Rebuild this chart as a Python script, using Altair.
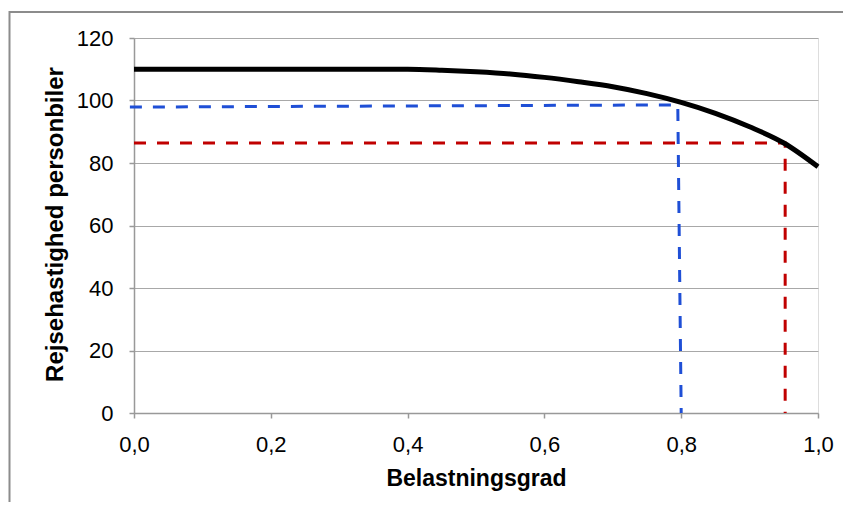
import altair as alt
import pandas as pd

# ---- data ----
curve_x = [0.0, 0.1, 0.2, 0.3, 0.4, 0.45, 0.5, 0.55, 0.6, 0.65, 0.7, 0.75, 0.8, 0.85, 0.9, 0.95, 1.0]
curve_y = [110, 110, 110, 110, 110, 109.7, 109.2, 108.5, 107.4, 106.0, 104.4, 102.2, 99.4, 95.9, 91.6, 86.4, 78.8]

blue_x = [-0.006, 0.795, 0.8]
blue_y = [97.9, 98.6, 0]

red_x = [0.0, 0.952, 0.952]
red_y = [86.4, 86.4, 0]

x_ticks = [0.0, 0.2, 0.4, 0.6, 0.8, 1.0]
y_ticks = [0, 20, 40, 60, 80, 100, 120]

x_title = "Belastningsgrad"
y_title = "Rejsehastighed personbiler"

W, H = 684, 375
FONT = "Liberation Sans"
GRAY = "#999999"

curve = pd.DataFrame({"x": curve_x, "y": curve_y, "i": list(range(len(curve_x)))})
blue = pd.DataFrame({"x": blue_x, "y": blue_y, "i": list(range(len(blue_x)))})
red = pd.DataFrame({"x": red_x, "y": red_y, "i": list(range(len(red_x)))})

xscale = alt.Scale(domain=[0, 1], nice=False, zero=False)
yscale = alt.Scale(domain=[0, 120], nice=False)

xaxis = alt.Axis(
    values=x_ticks,
    labelExpr="replace(format(datum.value, '.1f'), '.', ',')",
    labelFlush=False,
    grid=False,
    domainColor=GRAY, domainWidth=1.5,
    tickColor=GRAY, tickSize=5, tickWidth=1.5,
    labelFont=FONT, labelFontSize=22, labelColor="#000000", labelPadding=16,
    title=x_title, titleFont=FONT, titleFontSize=23, titleFontWeight="bold",
    titleColor="#000000", titleBaseline="alphabetic", titleX=W / 2, titleY=72,
)
yaxis = alt.Axis(
    values=y_ticks,
    labelFlush=False,
    grid=True, gridColor="#a8a8a8", gridWidth=1.2,
    domainColor=GRAY, domainWidth=1.5,
    tickColor=GRAY, tickSize=5, tickWidth=1.5,
    labelFont=FONT, labelFontSize=22, labelColor="#000000", labelPadding=16,
    title=y_title, titleFont=FONT, titleFontSize=24, titleFontWeight="bold",
    titleColor="#000000", titleAngle=270, titleBaseline="alphabetic",
    titleX=-72, titleY=186,
)

frame = alt.Chart(pd.DataFrame({"k": [0]})).mark_rect(
    fill="transparent", stroke="#8c8c8c", strokeWidth=2
).encode(
    x=alt.value(-124.5), x2=alt.value(900), y=alt.value(-26), y2=alt.value(700)
)

curve_layer = alt.Chart(curve).mark_line(
    color="#000000", strokeWidth=5, interpolate="monotone"
).encode(
    x=alt.X("x:Q", scale=xscale, axis=xaxis),
    y=alt.Y("y:Q", scale=yscale, axis=yaxis),
    order="i:Q",
)

blue_layer = alt.Chart(blue).mark_line(
    color="#1f4fd6", strokeWidth=3, strokeDash=[12, 11], strokeCap="butt"
).encode(
    x=alt.X("x:Q", scale=xscale),
    y=alt.Y("y:Q", scale=yscale),
    order="i:Q",
)

red_layer = alt.Chart(red).mark_line(
    color="#c00000", strokeWidth=3, strokeDash=[12, 11], strokeCap="butt"
).encode(
    x=alt.X("x:Q", scale=xscale),
    y=alt.Y("y:Q", scale=yscale),
    order="i:Q",
)

chart = alt.layer(frame, blue_layer, red_layer, curve_layer).properties(
    width=W,
    height=H,
    autosize=alt.AutoSizeParams(type="none"),
    padding={"left": 126, "top": 30, "right": 25, "bottom": 89},
    background="white",
).configure_view(strokeWidth=0).configure(font=FONT)

chart.save("out.html", embed_options={"renderer": "svg", "actions": False})
